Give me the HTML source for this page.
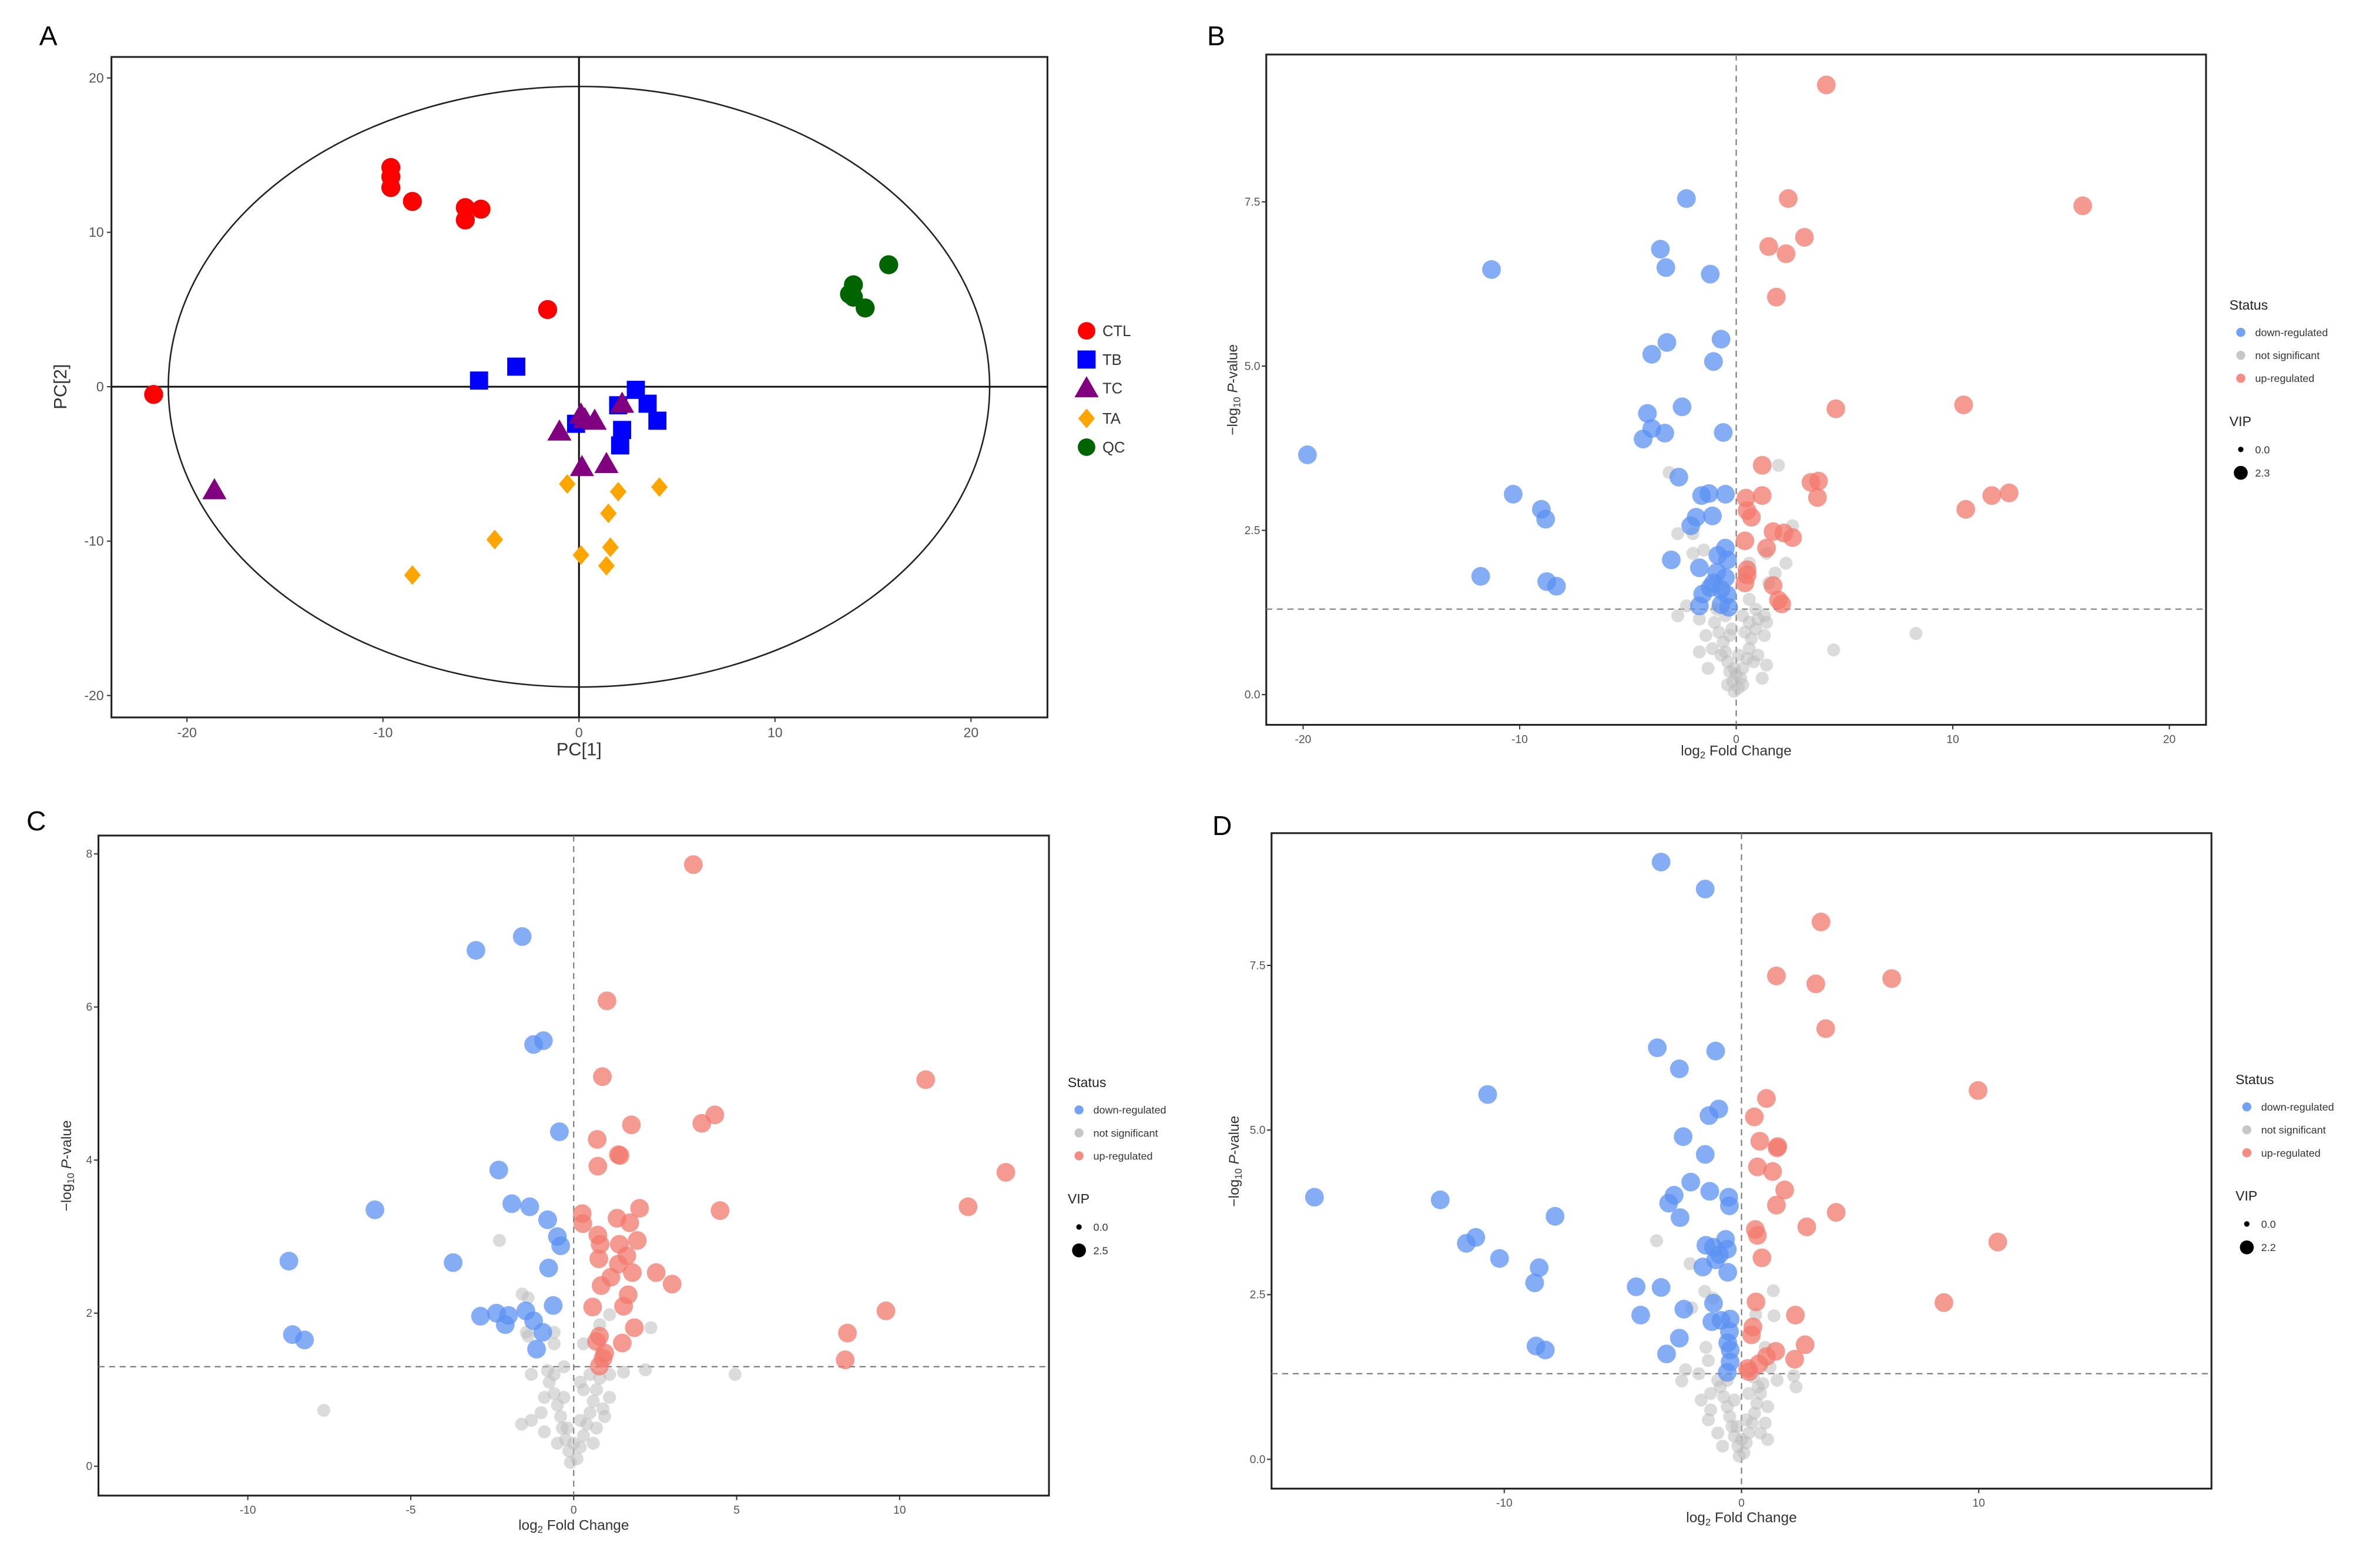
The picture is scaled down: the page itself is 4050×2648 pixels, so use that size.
<!DOCTYPE html>
<html><head><meta charset="utf-8">
<style>
html,body{margin:0;padding:0;background:#fff;}
svg{display:block;font-family:"Liberation Sans",sans-serif;}
</style></head>
<body>
<svg id="fig" width="4050" height="2648" viewBox="0 0 1576 1030" preserveAspectRatio="none" xmlns="http://www.w3.org/2000/svg">
<rect x="0" y="0" width="1576" height="1030" fill="#fff"/>
</svg>
<script>
// ---------- Panel A data (PCA scores) ----------
const pcaGroups = ["CTL","TB","TC","TA","QC"];
const ctlPts = [[-9.6,14.2],[-9.6,13.6],[-9.6,12.9],[-8.5,12.0],[-5.8,11.6],[-5.8,10.8],[-5.0,11.5],[-1.6,5.0],[-21.7,-0.5]];
const tbPts = [[-5.1,0.4],[-3.2,1.3],[2.9,-0.2],[3.5,-1.1],[4.0,-2.2],[2.0,-1.2],[2.2,-2.8],[2.1,-3.8],[-0.15,-2.4]];
const tcPts = [[0.1,-1.8],[0.8,-2.2],[2.2,-1.1],[-1.0,-2.9],[0.15,-5.2],[1.4,-5.0],[-18.6,-6.7],[0.3,-2.1]];
const taPts = [[-0.6,-6.3],[2.0,-6.8],[4.1,-6.5],[1.5,-8.2],[-4.3,-9.9],[1.6,-10.4],[0.1,-10.9],[1.4,-11.6],[-8.5,-12.2]];
const qcPts = [[15.8,7.9],[14.0,6.6],[13.8,6.0],[14.0,5.8],[14.6,5.1]];
const pcaTicks = [-20,-10,0,10,20];
const ellipseR = [20.95,19.45];

// ---------- Panel B data ----------
const bDown = [[-2.3,7.55],[-3.5,6.78],[-3.25,6.5],[-1.2,6.4],[-11.3,6.47],[-3.2,5.36],[-3.9,5.18],[-0.7,5.41],[-1.05,5.07],[-2.5,4.38],[-4.1,4.28],[-3.9,4.05],[-3.3,3.98],[-4.3,3.89],[-0.6,3.99],[-19.8,3.65],[-2.65,3.31],[-10.3,3.05],[-9.0,2.82],[-8.8,2.67],[-1.6,3.03],[-1.26,3.06],[-0.5,3.05],[-1.85,2.7],[-2.1,2.57],[-1.1,2.72],[-3.0,2.05],[-11.8,1.8],[-8.75,1.72],[-8.3,1.65],[-1.7,1.93],[-0.85,2.12],[-0.5,2.23],[-0.4,2.05],[-0.9,1.86],[-0.5,1.78],[-1.05,1.7],[-0.7,1.6],[-1.55,1.53],[-0.42,1.52],[-1.2,1.63],[-1.7,1.35],[-0.7,1.37],[-0.35,1.33]];
const bUp = [[4.16,9.28],[2.4,7.55],[16.0,7.44],[3.15,6.96],[1.5,6.82],[2.3,6.71],[1.85,6.05],[4.6,4.35],[10.5,4.41],[1.2,3.49],[3.45,3.23],[3.8,3.25],[3.75,3.0],[11.8,3.03],[12.6,3.07],[10.6,2.82],[0.45,2.99],[1.2,3.03],[0.5,2.8],[0.7,2.7],[1.7,2.48],[2.2,2.46],[2.6,2.39],[0.4,2.34],[1.4,2.23],[0.5,1.9],[0.5,1.82],[0.4,1.7],[1.7,1.66],[1.95,1.44],[2.1,1.38]];
const bNs = [[8.3,0.93],[4.5,0.68],[1.95,3.49],[-3.1,3.38],[2.6,2.57],[-2.7,2.45],[-2.0,2.45],[-2.0,2.15],[1.4,2.15],[2.3,2.0],[-1.5,2.2],[1.5,1.7],[0.6,2.0],[1.8,1.85],[-2.7,1.2],[-2.3,1.35],[-1.7,1.15],[1.3,1.2],[1.4,1.1],[-0.9,1.3],[0.6,1.45],[0.9,1.3],
[-0.1,0.05],[0.1,0.1],[-0.15,0.2],[0.2,0.25],[-0.3,0.35],[0.3,0.4],[-0.4,0.5],[0.5,0.55],[-0.5,0.65],[0.6,0.7],[-0.6,0.8],[0.7,0.85],[-0.8,0.95],[0.9,1.0],[-1.0,1.1],[1.0,1.15],[-0.3,0.9],[0.4,0.95],[-0.7,0.6],[0.8,0.5],[-1.7,0.65],[1.4,0.45],[1.3,0.9],[-1.4,0.9],[0.1,0.6],[-0.1,0.4],[0.0,0.3],[-0.2,1.0],[0.3,1.2],[-0.5,1.2],[0.6,1.1],[-1.1,0.7],[1.0,0.6],[-0.4,0.15],[0.3,0.15],[-1.3,0.4],[1.2,0.25]];
const bXTicks = [-20,-10,0,10,20];
const bYTicks = [0,2.5,5,7.5];
const bVip = ["0.0","2.3"];

// ---------- Panel C data ----------
const cDown = [[-1.58,6.92],[-3.0,6.74],[-0.93,5.56],[-1.23,5.51],[-0.44,4.37],[-2.3,3.87],[-6.1,3.35],[-1.9,3.43],[-1.35,3.39],[-0.8,3.22],[-0.5,3.0],[-0.4,2.88],[-8.74,2.68],[-3.7,2.66],[-0.77,2.59],[-0.63,2.1],[-2.86,1.96],[-2.37,2.0],[-2.0,1.97],[-2.1,1.85],[-1.47,2.03],[-1.23,1.9],[-0.95,1.75],[-1.14,1.53],[-8.63,1.72],[-8.26,1.65]];
const cUp = [[3.67,7.86],[1.02,6.08],[0.88,5.09],[10.8,5.05],[4.33,4.59],[3.93,4.48],[1.77,4.46],[0.72,4.27],[1.37,4.07],[1.42,4.06],[0.74,3.92],[13.26,3.84],[2.02,3.37],[4.49,3.34],[12.1,3.39],[0.26,3.3],[0.28,3.17],[1.33,3.24],[1.72,3.18],[0.74,3.02],[1.95,2.95],[0.81,2.9],[1.4,2.9],[1.63,2.75],[0.77,2.71],[1.37,2.64],[1.8,2.53],[2.53,2.53],[1.14,2.47],[0.84,2.36],[3.02,2.38],[1.67,2.24],[0.58,2.08],[1.53,2.09],[9.58,2.03],[1.86,1.81],[8.4,1.74],[0.7,1.63],[0.79,1.7],[1.49,1.61],[0.95,1.48],[0.9,1.41],[0.79,1.31],[8.33,1.39]];
const cNs = [[-7.67,0.73],[4.95,1.2],[2.2,1.26],[1.53,1.23],[2.37,1.81],[-2.28,2.95],[-1.58,2.25],[-1.4,2.2],[0.8,1.85],[1.1,1.2],[-0.6,1.75],[-0.6,1.6],[-1.45,1.75],[-1.4,1.7],[1.1,1.98],[0.3,1.6],
[-0.1,0.05],[0.1,0.1],[-0.15,0.2],[0.2,0.25],[-0.25,0.35],[0.3,0.4],[-0.35,0.5],[0.4,0.55],[-0.4,0.65],[0.5,0.7],[-0.5,0.8],[0.6,0.85],[-0.6,0.95],[0.7,1.0],[-0.75,1.1],[0.8,1.15],[-0.8,1.25],[0.9,0.75],[-0.9,0.9],[0.95,0.65],[-1.0,0.7],[-1.6,0.55],[-1.3,0.6],[-0.3,0.9],[0.3,1.0],[0.2,0.6],[-0.2,0.5],[0.0,0.3],[-0.6,1.2],[0.5,1.2],[-1.3,1.2],[-0.9,0.45],[0.7,0.5],[1.1,0.9],[0.6,0.3],[-0.5,0.3],[-0.3,1.3],[0.2,1.1]];
const cXTicks = [-10,-5,0,5,10];
const cYTicks = [0,2,4,6,8];
const cVip = ["0.0","2.5"];

// ---------- Panel D data ----------
const dDown = [[-3.39,9.07],[-1.53,8.66],[-3.55,6.25],[-1.09,6.2],[-2.62,5.93],[-10.7,5.54],[-0.96,5.32],[-1.37,5.22],[-2.46,4.9],[-1.53,4.63],[-2.14,4.21],[-1.34,4.07],[-2.84,4.01],[-3.07,3.89],[-0.54,3.98],[-0.51,3.85],[-2.59,3.67],[-18.0,3.98],[-12.7,3.94],[-7.86,3.69],[-11.2,3.37],[-11.6,3.28],[-10.2,3.05],[-0.67,3.34],[-1.5,3.25],[-1.18,3.22],[-0.6,3.19],[-0.93,3.11],[-1.09,3.03],[-1.63,2.92],[-0.58,2.84],[-8.53,2.91],[-8.72,2.68],[-4.44,2.62],[-3.39,2.61],[-1.18,2.37],[-2.43,2.28],[-4.25,2.19],[-1.25,2.09],[-0.86,2.11],[-0.48,2.13],[-0.51,1.94],[-2.62,1.84],[-0.58,1.77],[-0.48,1.66],[-8.66,1.72],[-8.27,1.66],[-3.16,1.6],[-0.48,1.48],[-0.6,1.32]];
const dUp = [[3.35,8.16],[1.47,7.34],[3.13,7.22],[6.33,7.3],[3.55,6.54],[9.97,5.6],[1.05,5.48],[0.54,5.2],[0.77,4.83],[1.5,4.73],[1.53,4.75],[0.67,4.44],[1.31,4.37],[1.82,4.09],[1.47,3.86],[3.99,3.75],[2.75,3.53],[0.58,3.49],[0.67,3.4],[10.8,3.3],[0.86,3.06],[0.61,2.39],[8.53,2.38],[2.27,2.19],[0.48,2.01],[0.42,1.89],[2.68,1.74],[1.44,1.64],[2.24,1.52],[1.05,1.56],[0.73,1.45],[0.26,1.38],[0.32,1.33]];
const dNs = [[-3.58,3.32],[-2.17,2.97],[1.34,2.56],[1.37,2.18],[2.2,1.27],[-2.52,1.19],[-2.36,1.36],[-1.55,2.55],[-2.1,2.3],[-1.2,2.45],[0.6,2.2],[-1.5,1.7],[0.7,1.1],[1.2,1.4],[-1.8,1.3],[-1.4,1.5],[1.0,1.7],[1.5,1.2],
[-0.1,0.05],[0.1,0.1],[-0.15,0.2],[0.2,0.25],[-0.3,0.35],[0.3,0.4],[-0.4,0.5],[0.45,0.55],[-0.5,0.65],[0.55,0.7],[-0.6,0.8],[0.65,0.85],[-0.75,0.95],[0.8,1.0],[-0.9,1.1],[0.9,1.15],[-1.0,1.2],[1.1,0.8],[-1.3,0.75],[-1.7,0.9],[-1.4,0.6],[0.8,0.4],[-0.3,0.9],[0.3,1.0],[0.2,0.6],[-0.2,0.5],[0.0,0.3],[-1.0,0.4],[1.0,0.55],[-0.6,1.2],[0.5,1.25],[1.1,0.3],[-0.8,0.2],[-1.3,1.0],[2.3,1.1]];
const dXTicks = [-10,0,10];
const dYTicks = [0,2.5,5,7.5];
const dVip = ["0.0","2.2"];

const statusLabels = ["down-regulated","not significant","up-regulated"];

// ---------- helpers ----------
const svg = document.getElementById('fig');
const NS = "http://www.w3.org/2000/svg";
function mk(tag, attrs, parent, text){
  const e = document.createElementNS(NS, tag);
  for (const k in attrs) e.setAttribute(k, attrs[k]);
  if (text !== undefined) e.textContent = text;
  (parent||svg).appendChild(e);
  return e;
}
function linScale(v0, p0, perUnit){ return v => p0 + (v - v0) * perUnit; }

// ---------- Panel A ----------
(function(){
  const g = mk('g', {});
  
  
  const X = linScale(0, 383.4, 12.98), Y = linScale(0, 256.0, -10.22);
  const fx0 = 73.8, fx1 = 693.6, fy0 = 37.7, fy1 = 474.9;
  const lbl = mk('text', {x:32, y:30, 'font-size':18, fill:'#000', 'text-anchor':'middle'}, g, 'A');
  
  
  const fr = mk('rect', {x:fx0, y:fy0, width:fx1-fx0, height:fy1-fy0, fill:'none', stroke:'#222', 'stroke-width':1.2}, g);
  
  
  const el = mk('ellipse', {cx:X(0), cy:Y(0), rx:X(ellipseR[0])-X(0), ry:Y(0)-Y(ellipseR[1]), fill:'none', stroke:'#222', 'stroke-width':1}, g);
  
  
  mk('line', {x1:fx0, x2:fx1, y1:Y(0), y2:Y(0), stroke:'#111', 'stroke-width':1.2}, g);
  mk('line', {x1:X(0), x2:X(0), y1:fy0, y2:fy1, stroke:'#111', 'stroke-width':1.2}, g);
  pcaTicks.forEach(t => {
    mk('line', {x1:X(t), x2:X(t), y1:fy1, y2:fy1+3, stroke:'#333', 'stroke-width':0.8}, g);
    const tx = mk('text', {x:X(t), y:fy1+13, 'font-size':9, fill:'#555', 'text-anchor':'middle'}, g, t);
    
    
    mk('line', {x1:fx0-3, x2:fx0, y1:Y(t), y2:Y(t), stroke:'#333', 'stroke-width':0.8}, g);
    const ty = mk('text', {x:fx0-5, y:Y(t)+3, 'font-size':9, fill:'#555', 'text-anchor':'end'}, g, t);
    
    
  });
  const xt = mk('text', {x:X(0), y:500, 'font-size':12, fill:'#333', 'text-anchor':'middle'}, g, 'PC[1]');
  
  
  const yt = mk('text', {x:0, y:0, 'font-size':12, fill:'#333', 'text-anchor':'middle', transform:`translate(44,${Y(0)}) rotate(-90)`}, g, 'PC[2]');
  
  

  function marker(kind, cx, cy, parent){
    if (kind === 'circle') return mk('circle', {cx, cy, r:6.3, fill:'#ff0000'}, parent);
    if (kind === 'square') return mk('rect', {x:cx-6, y:cy-6, width:12, height:12, fill:'#0000ff'}, parent);
    if (kind === 'tri') return mk('polygon', {points:`${cx},${cy-8} ${cx+8},${cy+6} ${cx-8},${cy+6}`, fill:'#800080'}, parent);
    if (kind === 'dia') return mk('polygon', {points:`${cx},${cy-6.5} ${cx+5.5},${cy} ${cx},${cy+6.5} ${cx-5.5},${cy}`, fill:'#ffa500'}, parent);
    return mk('circle', {cx, cy, r:6.3, fill:'#006400'}, parent);
  }
  const sets = [[ctlPts,'circle','ctl-point'],[tbPts,'square','tb-point'],[tcPts,'tri','tc-point'],[taPts,'dia','ta-point'],[qcPts,'qc','qc-point']];
  sets.forEach(([pts, kind, name]) => {
    pts.forEach(p => {
      const m = marker(kind, X(p[0]), Y(p[1]), g);
      
      
    });
  });
  const legKinds = ['circle','square','tri','dia','qc'];
  const legY = [219, 238, 257, 277, 296];
  pcaGroups.forEach((grp, i) => {
    const le = mk('g', {}, g);
    
    
    const m = marker(legKinds[i], 719.5, legY[i], le);
    if (legKinds[i]==='circle' || legKinds[i]==='qc') m.setAttribute('r', 5.8);
    mk('text', {x:730, y:legY[i]+3.5, 'font-size':10, fill:'#333'}, le, grp);
  });
})();

// ---------- Volcano panels ----------
function volcano(cfg){
  const g = mk('g', {transform:`translate(${cfg.shift[0]},${cfg.shift[1]})`});
  
  
  const X = linScale(0, cfg.x0, cfg.xu), Y = linScale(0, cfg.y0, -cfg.yu);
  const [fx0, fx1, fy0, fy1] = cfg.frame;
  const lbl = mk('text', {x:cfg.letter[0], y:cfg.letter[1], 'font-size':18, fill:'#000', 'text-anchor':'middle'}, g, cfg.letterText);
  
  
  const fr = mk('rect', {x:fx0, y:fy0, width:fx1-fx0, height:fy1-fy0, fill:'none', stroke:'#222', 'stroke-width':1.2}, g);
  
  
  const vl = mk('line', {x1:X(0), x2:X(0), y1:fy0, y2:fy1, stroke:'#777', 'stroke-width':0.8, 'stroke-dasharray':'4,3'}, g);
  
  
  const hl = mk('line', {x1:fx0, x2:fx1, y1:Y(1.301), y2:Y(1.301), stroke:'#777', 'stroke-width':0.8, 'stroke-dasharray':'4,3'}, g);
  
  
  cfg.xt.forEach(t => {
    mk('line', {x1:X(t), x2:X(t), y1:fy1, y2:fy1+3, stroke:'#333', 'stroke-width':0.8}, g);
    const tx = mk('text', {x:X(t), y:fy1+12, 'font-size':7.5, fill:'#555', 'text-anchor':'middle'}, g, t);
    
    
  });
  cfg.yt.forEach(t => {
    mk('line', {x1:fx0-3, x2:fx0, y1:Y(t), y2:Y(t), stroke:'#333', 'stroke-width':0.8}, g);
    const ty = mk('text', {x:fx0-4, y:Y(t)+2.5, 'font-size':7.5, fill:'#555', 'text-anchor':'end'}, g, cfg.yFmt(t));
    
    
  });
  const xt = mk('text', {x:X(0), y:cfg.xTitleY, 'font-size':9.5, fill:'#333', 'text-anchor':'middle'}, g);
  
  
  xt.innerHTML = 'log<tspan font-size="6.5" dy="2">2</tspan><tspan dy="-2"> Fold Change</tspan>';
  const yt = mk('text', {x:0, y:0, 'font-size':9.5, fill:'#333', 'text-anchor':'middle', transform:`translate(${cfg.yTitleX},${cfg.yTitleY}) rotate(-90)`}, g);
  
  
  yt.innerHTML = '−log<tspan font-size="6.5" dy="2">10</tspan><tspan dy="-2"> </tspan><tspan font-style="italic">P</tspan>-value';

  cfg.ns.forEach(p => {
    const c = mk('circle', {cx:X(p[0]), cy:Y(p[1]), r:4.3, fill:'#bdbdbd', 'fill-opacity':0.55}, g);
    
    
  });
  cfg.down.forEach(p => {
    const c = mk('circle', {cx:X(p[0]), cy:Y(p[1]), r:6.2, fill:'#5b92f2', 'fill-opacity':0.75}, g);
    
    
  });
  cfg.up.forEach(p => {
    const c = mk('circle', {cx:X(p[0]), cy:Y(p[1]), r:6.2, fill:'#f2786c', 'fill-opacity':0.75}, g);
    
    
  });
  const [lx, ly] = cfg.leg;
  const lg = mk('g', {}, g);
  
  
  mk('text', {x:lx, y:ly, 'font-size':9, fill:'#222'}, lg, 'Status');
  const cols = ['#5b92f2','#bdbdbd','#f2786c'];
  statusLabels.forEach((s, i) => {
    const le = mk('g', {}, lg);
    
    
    const yy = ly + 15 + i*15.2;
    mk('circle', {cx:lx+7.5, cy:yy, r:3, fill:cols[i], 'fill-opacity':0.85}, le);
    mk('text', {x:lx+17, y:yy+2.5, 'font-size':7, fill:'#333'}, le, s);
  });
  mk('text', {x:lx, y:ly+77, 'font-size':9, fill:'#222'}, lg, 'VIP');
  [[1.8, ly+92.5],[4.6, ly+108]].forEach((v, i) => {
    const le = mk('g', {}, lg);
    
    
    mk('circle', {cx:lx+7.5, cy:v[1], r:v[0], fill:'#000'}, le);
    mk('text', {x:lx+17, y:v[1]+2.5, 'font-size':7, fill:'#333'}, le, cfg.vip[i]);
  });
}

volcano({name:'volcano-panel-b', letterText:'B', shift:[10.3,0], letter:[795,30], frame:[828.2,1450.5,36.1,479.8],
  x0:1139.4, xu:14.34, y0:459.8, yu:43.49, xt:bXTicks, yt:bYTicks, yFmt:t=>t.toFixed(1),
  xTitleY:500, yTitleX:809, yTitleY:258, down:bDown, up:bUp, ns:bNs, vip:bVip, leg:[1466,205]});
volcano({name:'volcano-panel-c', letterText:'C', shift:[0,6.7], letter:[24,543], frame:[65.2,694.6,546.4,983.3],
  x0:379.9, xu:21.58, y0:963.9, yu:50.67, xt:cXTicks, yt:cYTicks, yFmt:t=>String(t),
  xTitleY:1006, yTitleX:47, yTitleY:765, down:cDown, up:cUp, ns:cNs, vip:cVip, leg:[707,713]});
volcano({name:'volcano-panel-d', letterText:'D', shift:[10.3,6.7], letter:[799,546], frame:[831.7,1454.1,544.8,978.7],
  x0:1142.9, xu:15.71, y0:959.3, yu:43.59, xt:dXTicks, yt:dYTicks, yFmt:t=>t.toFixed(1),
  xTitleY:1001, yTitleX:810, yTitleY:762, down:dDown, up:dUp, ns:dNs, vip:dVip, leg:[1470,711]});
</script>
</body></html>
